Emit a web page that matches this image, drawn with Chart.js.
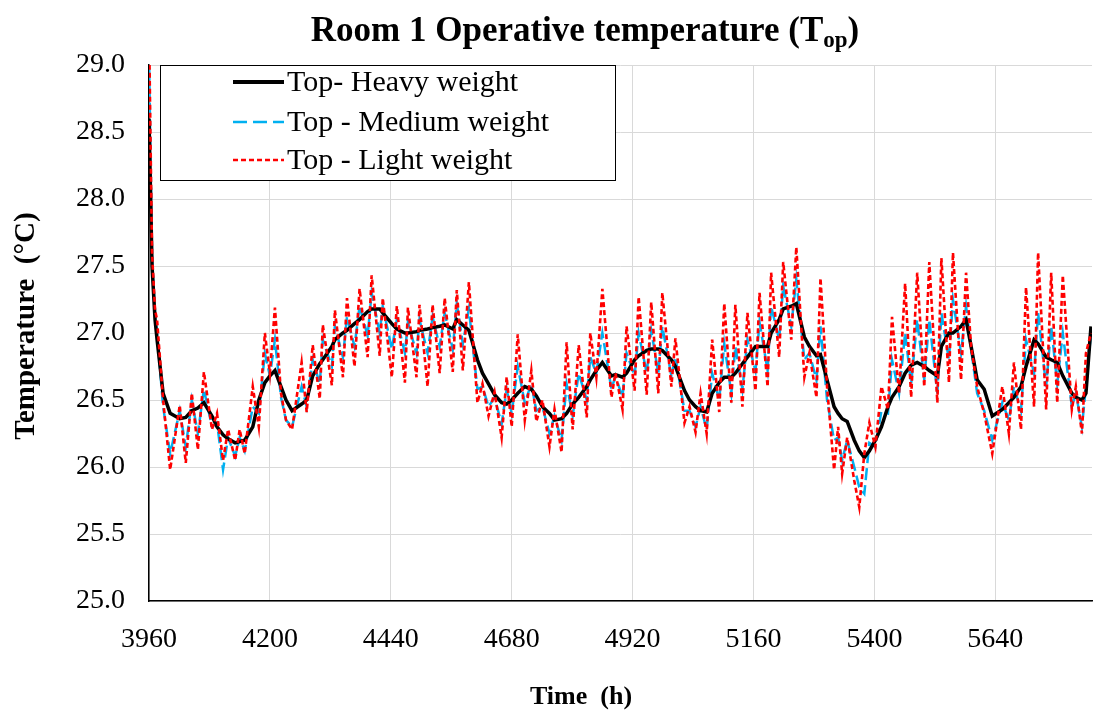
<!DOCTYPE html>
<html>
<head>
<meta charset="utf-8">
<script src="https://cdn.jsdelivr.net/npm/chart.js@4.4.1/dist/chart.umd.min.js"></script>
<style>
  html, body { margin: 0; padding: 0; background: #fff; }
  #wrap { width: 1096px; height: 720px; position: relative; }
</style>
</head>
<body>
<div id="wrap"><canvas id="chart"></canvas></div>
<script>
// time (h) of each reading
const hours = [
    3960, 3966, 3972, 3976, 3988, 4002, 4021, 4033, 4045, 4057,
    4069, 4085, 4095, 4107, 4117, 4131, 4140, 4150, 4166, 4178,
    4190, 4200, 4210, 4222, 4232, 4244, 4263, 4273, 4285, 4299,
    4305, 4323, 4329, 4345, 4353, 4368, 4378, 4394, 4402, 4418,
    4424, 4442, 4452, 4468, 4474, 4491, 4497, 4513, 4523, 4537,
    4547, 4563, 4571, 4583, 4595, 4612, 4622, 4634, 4646, 4660,
    4670, 4680, 4692, 4706, 4719, 4729, 4741, 4755, 4765, 4779,
    4789, 4801, 4813, 4829, 4836, 4848, 4860, 4878, 4886, 4900,
    4908, 4924, 4932, 4948, 4957, 4971, 4979, 4997, 5005, 5023,
    5033, 5045, 5055, 5067, 5078, 5092, 5102, 5116, 5124, 5138,
    5148, 5164, 5172, 5188, 5195, 5211, 5219, 5235, 5245, 5261,
    5271, 5285, 5293, 5306, 5320, 5328, 5336, 5346, 5360, 5370,
    5380, 5390, 5402, 5414, 5427, 5435, 5449, 5461, 5473, 5485,
    5499, 5509, 5525, 5533, 5548, 5556, 5572, 5582, 5592, 5604,
    5618, 5634, 5654, 5667, 5677, 5691, 5701, 5717, 5725, 5741,
    5751, 5763, 5774, 5792, 5800, 5812, 5820, 5830,
];

const heavyTemps = [
    28.6, 27.5, 27.1, 26.95, 26.55, 26.4, 26.36, 26.37, 26.42, 26.44,
    26.48, 26.38, 26.3, 26.24, 26.21, 26.18, 26.19, 26.2, 26.3, 26.5,
    26.63, 26.68, 26.72, 26.6, 26.5, 26.42, 26.47, 26.5, 26.68, 26.77,
    26.8, 26.9, 26.95, 27.0, 27.02, 27.07, 27.1, 27.16, 27.18, 27.18,
    27.15, 27.07, 27.03, 27.0, 27.0, 27.01, 27.02, 27.03, 27.04, 27.05,
    27.06, 27.03, 27.1, 27.06, 27.02, 26.8, 26.7, 26.62, 26.54, 26.48,
    26.47, 26.5, 26.55, 26.6, 26.58, 26.53, 26.45, 26.4, 26.35, 26.36,
    26.4, 26.47, 26.52, 26.6, 26.65, 26.72, 26.78, 26.68, 26.69, 26.67,
    26.7, 26.8, 26.83, 26.87, 26.88, 26.88, 26.87, 26.8, 26.75, 26.57,
    26.5, 26.45, 26.42, 26.41, 26.55, 26.63, 26.67, 26.67, 26.7, 26.77,
    26.82, 26.9, 26.9, 26.9, 27.0, 27.1, 27.18, 27.2, 27.22, 26.97,
    26.9, 26.83, 26.84, 26.65, 26.45, 26.4, 26.36, 26.34, 26.2, 26.12,
    26.07, 26.12, 26.2, 26.3, 26.45, 26.52, 26.6, 26.7, 26.76, 26.78,
    26.75, 26.72, 26.68, 26.9, 27.0, 27.0, 27.05, 27.1, 26.9, 26.65,
    26.58, 26.38, 26.43, 26.48, 26.52, 26.6, 26.75, 26.95, 26.92, 26.82,
    26.8, 26.78, 26.68, 26.55, 26.52, 26.5, 26.55, 27.05,
];

const mediumTemps = [
    29.1, 27.55, 27.15, 27.0, 26.45, 26.1, 26.42, 26.15, 26.5, 26.25,
    26.58, 26.3, 26.33, 25.98, 26.22, 26.08, 26.22, 26.12, 26.45, 26.4,
    26.85, 26.68, 26.95, 26.52, 26.35, 26.3, 26.6, 26.45, 26.8, 26.62,
    26.95, 26.75, 27.05, 26.82, 27.12, 26.9, 27.2, 26.98, 27.3, 27.0,
    27.2, 26.88, 27.1, 26.85, 27.08, 26.85, 27.1, 26.85, 27.12, 26.9,
    27.15, 26.88, 27.22, 26.92, 27.18, 26.58, 26.6, 26.45, 26.52, 26.32,
    26.58, 26.4, 26.75, 26.48, 26.62, 26.42, 26.45, 26.25, 26.38, 26.2,
    26.62, 26.38, 26.7, 26.5, 26.82, 26.7, 27.0, 26.58, 26.68, 26.52,
    26.85, 26.68, 27.0, 26.7, 27.02, 26.7, 27.05, 26.68, 26.82, 26.42,
    26.42, 26.3, 26.45, 26.28, 26.7, 26.5, 26.92, 26.55, 26.9, 26.58,
    26.95, 26.72, 27.08, 26.72, 27.2, 26.95, 27.35, 27.05, 27.4, 26.8,
    26.85, 26.65, 27.05, 26.5, 26.2, 26.22, 26.05, 26.2, 26.0, 25.85,
    25.8, 26.18, 26.15, 26.42, 26.4, 26.8, 26.55, 27.0, 26.62, 27.1,
    26.65, 27.1, 26.55, 27.15, 26.8, 27.25, 26.85, 27.2, 26.88, 26.55,
    26.42, 26.2, 26.48, 26.35, 26.6, 26.42, 26.95, 26.7, 27.15, 26.6,
    27.05, 26.62, 27.0, 26.45, 26.55, 26.3, 26.6, 27.0,
];

const lightTemps = [
    29.3, 27.6, 27.17, 27.1, 26.5, 25.98, 26.46, 26.03, 26.55, 26.13,
    26.71, 26.28, 26.4, 26.05, 26.28, 26.05, 26.28, 26.1, 26.6, 26.3,
    27.0, 26.7, 27.19, 26.55, 26.35, 26.28, 26.78, 26.41, 26.91, 26.51,
    27.06, 26.61, 27.17, 26.67, 27.26, 26.75, 27.33, 26.82, 27.43, 26.83,
    27.26, 26.67, 27.2, 26.63, 27.19, 26.67, 27.21, 26.6, 27.21, 26.7,
    27.26, 26.71, 27.32, 26.72, 27.38, 26.48, 26.62, 26.38, 26.56, 26.22,
    26.67, 26.3, 26.99, 26.35, 26.72, 26.34, 26.5, 26.15, 26.43, 26.11,
    26.93, 26.28, 26.91, 26.37, 27.0, 26.67, 27.33, 26.52, 26.7, 26.43,
    27.05, 26.57, 27.27, 26.54, 27.23, 26.55, 27.3, 26.6, 26.96, 26.33,
    26.45, 26.26, 26.55, 26.25, 26.95, 26.41, 27.22, 26.48, 27.21, 26.45,
    27.15, 26.57, 27.3, 26.6, 27.45, 26.82, 27.53, 26.95, 27.64, 26.67,
    26.85, 26.52, 27.41, 26.6, 25.98, 26.3, 25.95, 26.22, 25.9, 25.7,
    26.1, 26.33, 26.15, 26.6, 26.43, 27.12, 26.55, 27.37, 26.52, 27.45,
    26.6, 27.53, 26.48, 27.56, 26.63, 27.6, 26.65, 27.45, 26.9, 26.6,
    26.4, 26.1, 26.6, 26.25, 26.78, 26.28, 27.34, 26.45, 27.6, 26.43,
    27.45, 26.48, 27.43, 26.43, 26.6, 26.25, 26.85, 27.0,
];

const seriesNames = ['Top- Heavy weight', 'Top - Medium weight', 'Top - Light weight'];
const xTicks = [3960, 4200, 4440, 4680, 4920, 5160, 5400, 5640];

const SERIF = "'Liberation Serif', 'Times New Roman', serif";

const toPoints = (vals) => vals.map((v, i) => ({ x: hours[i], y: v }));

// title, axis titles and the boxed legend are drawn by hand
const decorations = {
    id: 'decorations',
    afterDraw(chart) {
        const ctx = chart.ctx;
        ctx.save();
        ctx.fillStyle = '#000';
        ctx.textBaseline = 'alphabetic';

        // title with subscript
        const main = 'Room 1 Operative temperature (T';
        const sub = 'op';
        const end = ')';
        ctx.font = 'bold 35px ' + SERIF;
        const w1 = ctx.measureText(main).width;
        const w3 = ctx.measureText(end).width;
        ctx.font = 'bold 23px ' + SERIF;
        const w2 = ctx.measureText(sub).width;
        let x = 585 - (w1 + w2 + w3) / 2;
        const y = 41;
        ctx.font = 'bold 35px ' + SERIF;
        ctx.textAlign = 'left';
        ctx.fillText(main, x, y);
        x += w1;
        ctx.font = 'bold 23px ' + SERIF;
        ctx.fillText(sub, x, y + 6);
        x += w2;
        ctx.font = 'bold 35px ' + SERIF;
        ctx.fillText(end, x, y);

        // axis titles
        ctx.font = 'bold 26px ' + SERIF;
        ctx.textAlign = 'center';
        ctx.textBaseline = 'middle';
        ctx.fillText('Time  (h)', 581, 697);
        ctx.font = 'bold 29px ' + SERIF;
        ctx.save();
        ctx.translate(27, 326);
        ctx.rotate(-Math.PI / 2);
        ctx.fillText('Temperature  (\u00B0C)', 0, 0);
        ctx.restore();

        // legend box
        ctx.fillStyle = '#fff';
        ctx.fillRect(160, 65, 455, 115);
        ctx.strokeStyle = '#000';
        ctx.lineWidth = 1;
        ctx.strokeRect(160.5, 65.5, 455, 115);

        const rows = [82, 122, 160];
        const styles = [
            { color: '#000000', width: 4, dash: [] },
            { color: '#00B0F0', width: 2.5, dash: [14, 6] },
            { color: '#FF0000', width: 2.5, dash: [5, 3] },
        ];
        ctx.font = '30px ' + SERIF;
        ctx.textAlign = 'left';
        ctx.textBaseline = 'middle';
        rows.forEach((ry, i) => {
            const s = styles[i];
            ctx.beginPath();
            ctx.setLineDash(s.dash);
            ctx.strokeStyle = s.color;
            ctx.lineWidth = s.width;
            ctx.moveTo(233, ry);
            ctx.lineTo(284, ry);
            ctx.stroke();
            ctx.setLineDash([]);
            ctx.fillStyle = '#000';
            ctx.fillText(seriesNames[i], 287, ry + 1);
        });
        ctx.restore();
    },
};

new Chart(document.getElementById('chart'), {
    type: 'line',
    data: {
        datasets: [
            {
                label: seriesNames[0],
                data: toPoints(heavyTemps),
                borderColor: '#000000',
                borderWidth: 3.5,
                pointRadius: 0,
                tension: 0,
                order: 2,
            },
            {
                label: seriesNames[1],
                data: toPoints(mediumTemps),
                borderColor: '#00B0F0',
                borderWidth: 2.5,
                borderDash: [12, 5],
                pointRadius: 0,
                tension: 0,
                order: 3,
            },
            {
                label: seriesNames[2],
                data: toPoints(lightTemps),
                borderColor: '#FF0000',
                borderWidth: 2.6,
                borderDash: [5, 3],
                pointRadius: 0,
                tension: 0,
                order: 1,
            },
        ],
    },
    options: {
        responsive: true,
        maintainAspectRatio: false,
        animation: false,
        layout: { padding: { left: 0, right: 4, top: 65, bottom: 0 } },
        plugins: {
            legend: { display: false },
            title: { display: false },
            tooltip: { enabled: false },
        },
        scales: {
            x: {
                type: 'linear',
                min: 3960,
                max: 5832,
                afterBuildTicks(scale) {
                    scale.ticks = xTicks.map((v) => ({ value: v }));
                },
                afterFit(scale) { scale.height = 119; },
                grid: { color: '#d9d9d9', lineWidth: 1, drawTicks: false },
                border: { color: '#000', width: 1.5 },
                ticks: {
                    padding: 22,
                    color: '#000',
                    font: { family: SERIF, size: 28 },
                    maxRotation: 0,
                    autoSkip: false,
                    callback: (v) => String(v),
                },
            },
            y: {
                min: 25,
                max: 29,
                afterFit(scale) { scale.width = 149; },
                grid: { color: '#d9d9d9', lineWidth: 1, drawTicks: false },
                border: { color: '#000', width: 1.5 },
                ticks: {
                    stepSize: 0.5,
                    padding: 24,
                    color: '#000',
                    font: { family: SERIF, size: 28 },
                    callback: (v) => Number(v).toFixed(1),
                },
            },
        },
    },
    plugins: [decorations],
});
</script>
</body>
</html>
